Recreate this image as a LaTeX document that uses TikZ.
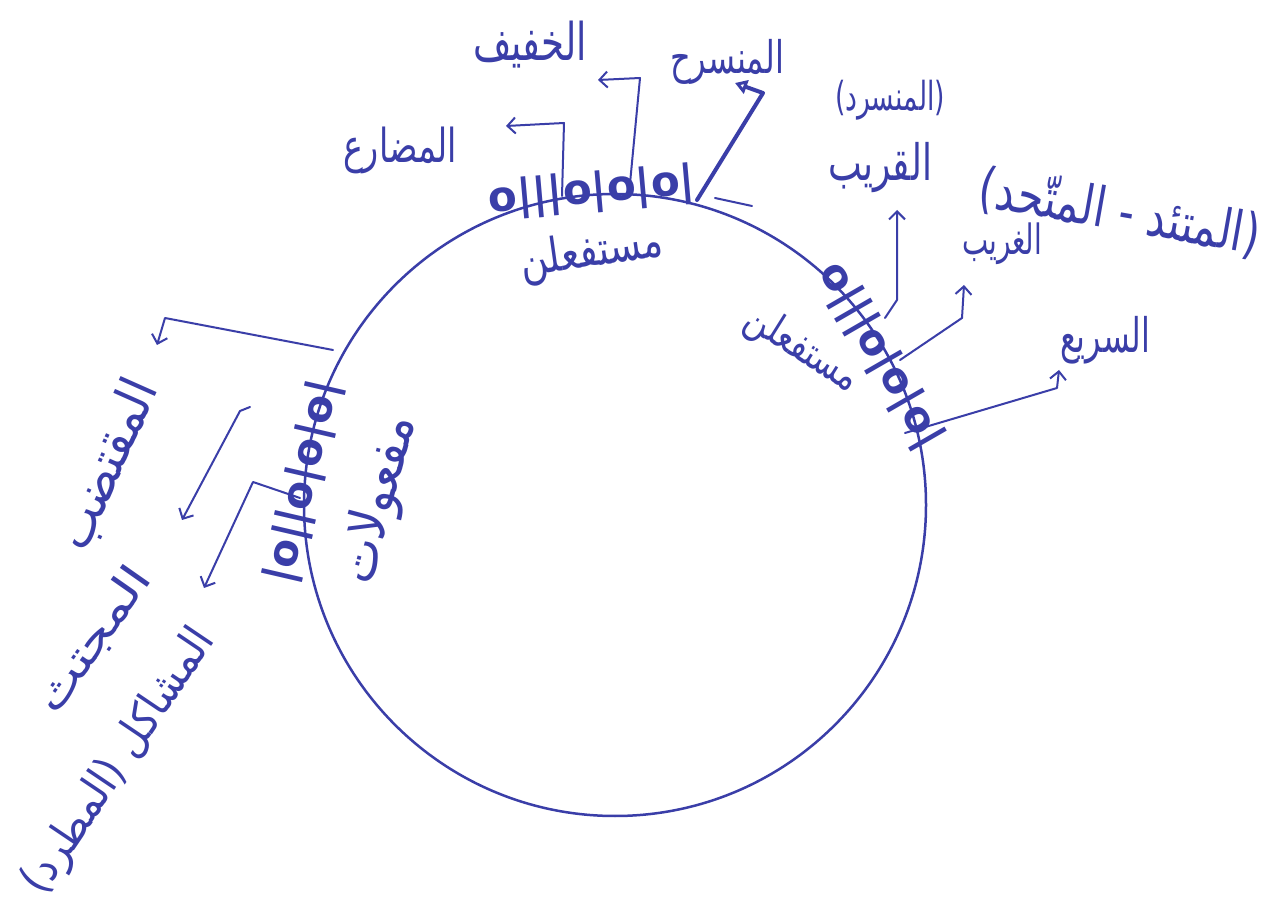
\documentclass[tikz,border=0pt]{standalone}
\usepackage{graphicx}
\usepackage{fontspec}
\setmainfont{DejaVu Sans}
\newfontfamily\ar[Script=Arabic]{DejaVu Sans}
\TeXXeTstate=1
\usetikzlibrary{arrows.meta}
\definecolor{ink}{RGB}{58,62,168}
\newcommand\arfit[3][1.25]{\scalebox{1}[#1]{\resizebox{#2}{!}{\ar #3}}}
\newcommand\lp{{\rmfamily(}}
\newcommand\rp{{\rmfamily)}}
\begin{document}
\begin{tikzpicture}[x=0.5pt,y=-0.5pt,
  pen/.style={draw=ink,line width=1pt,line cap=round,line join=round},
  arr/.style={pen,-{Straight Barb[length=4pt,width=8pt]}},
  lab/.style={text=ink,inner sep=0pt},
  marks/.style={text=ink,inner sep=0pt,font=\bfseries\fontsize{21}{24}\selectfont}]
\useasboundingbox (0,0) rectangle (1280,908);
\fill[white] (0,0) rectangle (1280,908);
% circle
\node[circle,draw=ink,line width=1.25pt,minimum size=311pt,inner sep=0pt] (C) at (615,505) {};
% marks
\node[marks,rotate=5]   (mtop)   at (592,192) {o|||o|o|o|};
\node[marks,rotate=-60] (mright) at (880,356) {o|||o|o|o|};
\node[marks,rotate=77]  (mleft)  at (304,482) {|o||o|o|o|};
% feet
\node[lab,rotate=8]   (foot1) at (592,254) {\arfit{72pt}{\beginR مستفعلن\endR}};
\node[lab,rotate=-32] (foot2) at (802,350) {\arfit{63pt}{\beginR مستفعلن\endR}};
\node[lab,rotate=75]  (foot3) at (380,500) {\arfit[1.1]{86pt}{\beginR مفعولات\endR}};
% meter labels
\node[lab] (mudari)   at (400,150) {\arfit[1.4]{57pt}{\beginR المضارع\endR}};
\node[lab] (khafif)   at (530,45)  {\arfit[1.4]{57pt}{\beginR الخفيف\endR}};
\node[lab] (munsarih) at (727,62)  {\arfit[1.4]{57pt}{\beginR المنسرح\endR}};
\node[lab] (munsarid) at (890,100) {\arfit[1.5]{55pt}{\lp\beginR المنسرد\endR\rp}};
\node[lab] (qarib)    at (880,168) {\arfit[1.4]{52pt}{\beginR القريب\endR}};
\node[lab,rotate=-10] (muttaid) at (1120,212) {\arfit[1.3]{142pt}{\lp\beginR المتئد - المتّحد\endR\rp}};
\node[lab] (gharib)   at (1002,244) {\arfit[1.5]{40pt}{\beginR الغريب\endR}};
\node[lab] (sari)     at (1105,340) {\arfit[1.5]{45pt}{\beginR السريع\endR}};
\node[lab,rotate=66]  (muqtadab) at (108,465) {\arfit[1.1]{90pt}{\beginR المقتضب\endR}};
\node[lab,rotate=55]  (mujtath)  at (94,640)  {\arfit[0.8]{84pt}{\beginR المجتث\endR}};
\node[lab,rotate=56]  (mushakil) at (120,762) {\arfit[1.1]{155pt}{\lp\beginR المطرد\endR\rp\ \beginR المشاكل\endR}};
% connector coordinates
\coordinate (s1) at (562,196); \coordinate (b1) at (564,123); \coordinate (e1) at (506,126);
\coordinate (s2) at (629,194); \coordinate (b2) at (640,78);  \coordinate (e2) at (598,80);
\coordinate (s3) at (697,200); \coordinate (b3) at (763,93);  \coordinate (e3) at (735,83);
\coordinate (s4) at (885,318); \coordinate (b4) at (897,300); \coordinate (e4) at (897,210);
\coordinate (s5) at (900,360); \coordinate (b5) at (962,318); \coordinate (e5) at (964,285);
\coordinate (s6) at (905,433); \coordinate (b6) at (1057,388);\coordinate (e6) at (1059,370);
\coordinate (s7) at (333,350); \coordinate (b7) at (165,318); \coordinate (e7) at (157,345);
\coordinate (s8) at (250,407); \coordinate (b8) at (240,411); \coordinate (e8) at (182,520);
\coordinate (s9) at (300,498); \coordinate (b9) at (253,482); \coordinate (e9) at (204,588);
\coordinate (d1) at (715,198); \coordinate (d2) at (752,206);
% connectors
\draw[arr] (s1) -- (b1) -- (e1);
\draw[arr] (s2) -- (b2) -- (e2);
\draw[pen,line width=2pt,-{Triangle[open,length=6pt,width=7pt]}] (s3) -- (b3) -- (e3);
\draw[arr] (s4) -- (b4) -- (e4);
\draw[arr] (s5) -- (b5) -- (e5);
\draw[arr] (s6) -- (b6) -- (e6);
\draw[arr] (s7) -- (b7) -- (e7);
\draw[arr] (s8) -- (b8) -- (e8);
\draw[arr] (s9) -- (b9) -- (e9);
\draw[pen] (d1) -- (d2);
\end{tikzpicture}
\end{document}
